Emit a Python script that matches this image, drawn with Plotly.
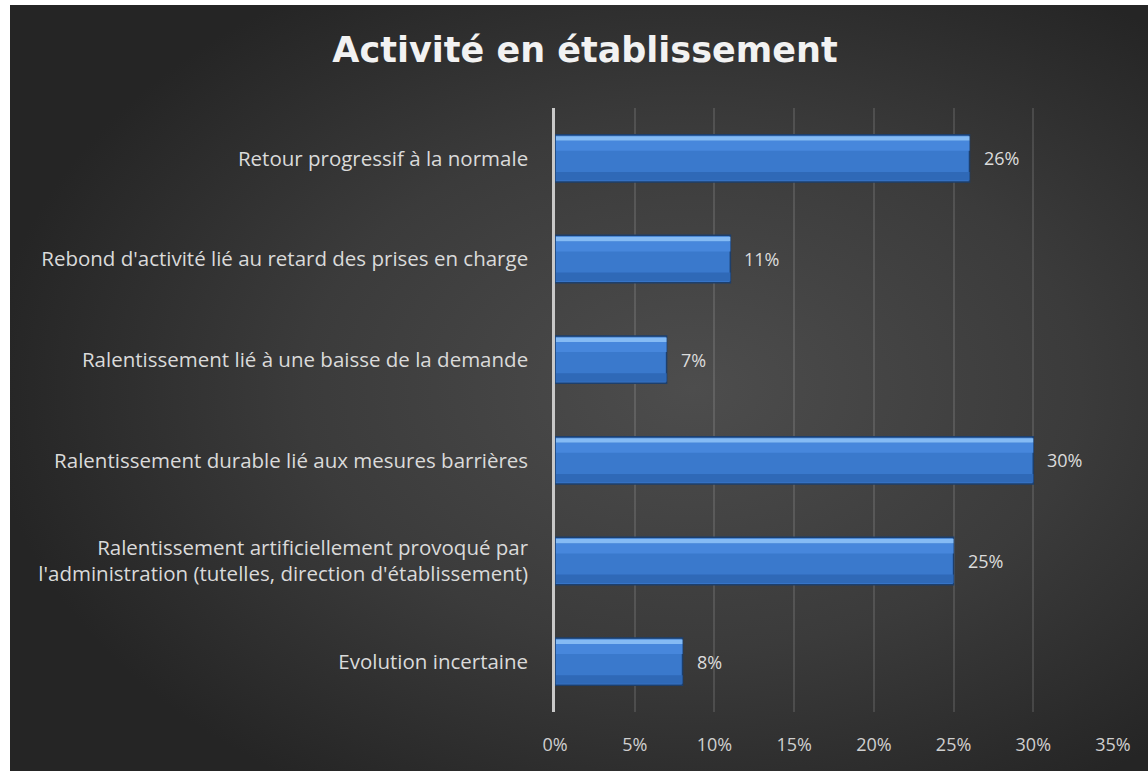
import base64
import plotly.graph_objects as go

categories = [
    "Retour progressif à la normale",
    "Rebond d'activité lié au retard des prises en charge",
    "Ralentissement lié à une baisse de la demande",
    "Ralentissement durable lié aux mesures barrières",
    "Ralentissement artificiellement provoqué par<br>l'administration (tutelles, direction d'établissement)",
    "Evolution incertaine",
]
values = [0.26, 0.11, 0.07, 0.30, 0.25, 0.08]
tick_vals = [0, 0.05, 0.10, 0.15, 0.20, 0.25, 0.30, 0.35]
tick_text = ["0%", "5%", "10%", "15%", "20%", "25%", "30%", "35%"]

W, H = 1148, 771
L, R, T, B = 555, 35, 108, 59
pw, ph = W - L - R, H - T - B

# dark radial background like the Excel style
svg = f"""<svg xmlns='http://www.w3.org/2000/svg' width='{W}' height='{H}' viewBox='0 0 {W} {H}' preserveAspectRatio='none'>
<defs><radialGradient id='g' cx='0.6' cy='0.5' r='0.62'>
<stop offset='0' stop-color='#4d4d4d'/><stop offset='0.55' stop-color='#3b3b3b'/><stop offset='1' stop-color='#252525'/>
</radialGradient></defs><rect width='{W}' height='{H}' fill='url(#g)'/></svg>"""
bg_src = "data:image/svg+xml;base64," + base64.b64encode(svg.encode()).decode()

bar_w = 0.47
top = -bar_w / 2
fig = go.Figure()
fig.add_trace(go.Bar(y=categories, x=values, orientation="h", width=bar_w, offset=top,
                     marker=dict(color="#3a79cc", line=dict(color="#1d3f6c", width=1.5)),
                     hoverinfo="skip"))
# bevel strips to fake the gradient
strips = [(0.015, 0.045, "#85bbf4"), (0.06, 0.1, "#4787dc"),
          (bar_w - 0.1, 0.085, "#2f69b7")]
for off, w, col in strips:
    fig.add_trace(go.Bar(y=categories, x=[v - 0.0006 for v in values], base=0.0006,
                         orientation="h", width=w, offset=top + off,
                         marker=dict(color=col, line=dict(width=0)), hoverinfo="skip"))

for c, v in zip(categories, values):
    fig.add_annotation(x=v, y=c, text=f"{round(v * 100)}%", showarrow=False, xanchor="left",
                       xshift=12, font=dict(family="Open Sans", size=18, color="#dcdcdc"))

fig.add_layout_image(dict(source=bg_src, xref="paper", yref="paper",
                          x=(10 - L) / pw, y=1 + (T - 5) / ph,
                          sizex=(W - 10) / pw, sizey=(H - 5) / ph,
                          sizing="stretch", layer="below", xanchor="left", yanchor="top"))

fig.update_layout(
    width=W, height=H,
    margin=dict(l=L, r=R, t=T, b=B),
    barmode="overlay",
    showlegend=False,
    paper_bgcolor="white",
    plot_bgcolor="rgba(0,0,0,0)",
    title=dict(text="<b>Activité en établissement</b>", x=585 / W, xanchor="center",
               y=1 - 50 / H, yanchor="middle",
               font=dict(family="DejaVu Sans", size=35, color="#f2f2f2")),
    font=dict(family="Open Sans", size=18, color="#d9d9d9"),
)
fig.update_xaxes(range=[0, 0.35], tickvals=tick_vals, ticktext=tick_text,
                 showgrid=True, gridcolor="rgba(255,255,255,0.12)", gridwidth=1.5,
                 zeroline=False, showline=False, ticks="", ticklabelstandoff=20,
                 tickfont=dict(family="Open Sans", size=18, color="#cfcfcf"))
fig.update_yaxes(autorange="reversed", showgrid=False, zeroline=False,
                 showline=True, linecolor="#c8c8c8", linewidth=2.5, ticks="",
                 ticklabelstandoff=20,
                 tickfont=dict(family="Open Sans", size=20.5, color="#dadada"))

fig.write_html("out.html", config={"displayModeBar": False},
               post_script="document.body.style.margin='0';")
